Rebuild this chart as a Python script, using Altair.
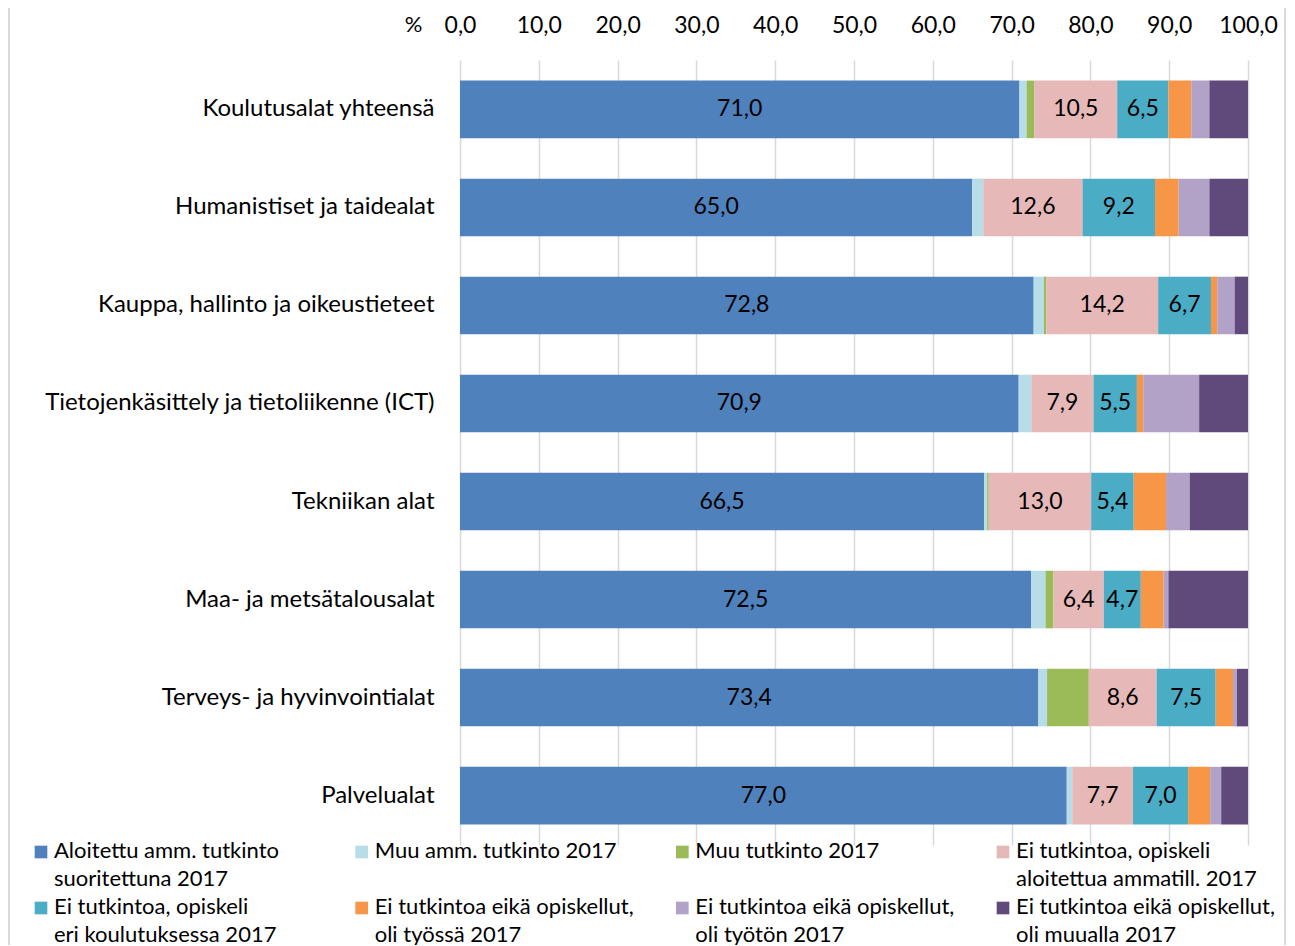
import altair as alt
import pandas as pd

categories = [
    "Koulutusalat yhteensä",
    "Humanistiset ja taidealat",
    "Kauppa, hallinto ja oikeustieteet",
    "Tietojenkäsittely ja tietoliikenne (ICT)",
    "Tekniikan alat",
    "Maa- ja metsätalousalat",
    "Terveys- ja hyvinvointialat",
    "Palvelualat",
]

series = [
    "Aloitettu amm. tutkinto|suoritettuna 2017",
    "Muu amm. tutkinto 2017",
    "Muu tutkinto 2017",
    "Ei tutkintoa, opiskeli|aloitettua ammatill. 2017",
    "Ei tutkintoa, opiskeli|eri koulutuksessa 2017",
    "Ei tutkintoa eikä opiskellut,|oli työssä 2017",
    "Ei tutkintoa eikä opiskellut,|oli työtön 2017",
    "Ei tutkintoa eikä opiskellut,|oli muualla 2017",
]

colors = ["#4f81bd", "#b7dde8", "#9bbb59", "#e6b9b8",
          "#4bacc6", "#f79646", "#b3a2c7", "#604a7b"]

suoritettu = [71.0, 65.0, 72.8, 70.9, 66.5, 72.5, 73.4, 77.0]
muu_amm = [0.9, 1.4, 1.3, 1.6, 0.4, 1.8, 1.1, 0.7]
muu_tutkinto = [1.0, 0.0, 0.3, 0.0, 0.2, 1.0, 5.3, 0.0]
aloitettua = [10.5, 12.6, 14.2, 7.9, 13.0, 6.4, 8.6, 7.7]
eri_koulutus = [6.5, 9.2, 6.7, 5.5, 5.4, 4.7, 7.5, 7.0]
tyossa = [2.9, 3.0, 0.8, 0.8, 4.1, 2.9, 2.2, 2.8]
tyoton = [2.3, 3.9, 2.2, 7.1, 3.0, 0.6, 0.5, 1.4]
muualla = [4.9, 4.9, 1.7, 6.2, 7.4, 10.1, 1.4, 3.4]

labelled = [0, 3, 4]
x_ticks = [0, 10, 20, 30, 40, 50, 60, 70, 80, 90, 100]
legend_columns = 4

values = [suoritettu, muu_amm, muu_tutkinto, aloitettua,
          eri_koulutus, tyossa, tyoton, muualla]

rows = []
for si, (s, vals) in enumerate(zip(series, values)):
    for ci, c in enumerate(categories):
        rows.append({"cat": c, "series": s, "order": si, "value": vals[ci],
                     "show": si in labelled})
df = pd.DataFrame(rows)

legend_df = pd.DataFrame({
    "series": series,
    "col": [i % legend_columns for i in range(len(series))],
    "row": [i // legend_columns for i in range(len(series))],
})

FONT = "Lato"
color_scale = alt.Scale(domain=series, range=colors)

base = alt.Chart(df).transform_stack(
    stack="value", groupby=["cat"], as_=["x0", "x1"],
    sort=[alt.SortField("order", order="ascending")]
).transform_calculate(
    mid="(datum.x0 + datum.x1) / 2",
    lab="replace(format(datum.value, '.1f'), '.', ',')",
)

y_scale = alt.Scale(paddingInner=0.413, paddingOuter=0.21)
x_scale = alt.Scale(domain=[0, 100], nice=False, zero=True)

bars = base.mark_bar().encode(
    x=alt.X(
        "x0:Q", scale=x_scale,
        axis=alt.Axis(
            orient="top", values=x_ticks, domain=False, ticks=False,
            grid=True, gridColor="#d9d9d9", gridWidth=1.5,
            labelExpr="replace(format(datum.value, '.1f'), '.', ',')",
            labelFontSize=23, labelFont=FONT, labelColor="#000",
            labelPadding=23, labelFlush=False,
            title="%", titleFontSize=22, titleFont=FONT,
            titleFontWeight="normal", titleColor="#000",
            titleX=-47, titleY=-29, titleBaseline="alphabetic",
            titleAlign="center", titleAngle=0,
        ),
    ),
    x2="x1:Q",
    y=alt.Y(
        "cat:N", sort=categories, scale=y_scale,
        axis=alt.Axis(title=None, domain=False, ticks=False, labelPadding=26,
                      labelFontSize=24, labelFont=FONT, labelColor="#000",
                      labelLimit=600),
    ),
    color=alt.Color("series:N", scale=color_scale, legend=None),
    order=alt.Order("order:Q"),
)

text = base.transform_filter("datum.show").mark_text(
    fontSize=23, font=FONT, color="#000", baseline="middle", align="center"
).encode(
    x=alt.X("mid:Q", scale=x_scale),
    y=alt.Y("cat:N", sort=categories, scale=y_scale),
    text="lab:N",
)

main = alt.layer(bars, text)

leg_base = alt.Chart(legend_df).encode(
    x=alt.X("col:Q", scale=alt.Scale(domain=[0, 3], range=[-419, 543]),
            axis=None),
    y=alt.Y("row:Q", scale=alt.Scale(domain=[0, 1], range=[792, 848]),
            axis=None),
)
leg_sq = leg_base.mark_square(size=160, opacity=1, strokeWidth=0).encode(
    color=alt.Color("series:N", scale=color_scale, legend=None),
)
leg_txt = leg_base.transform_calculate(
    lines="split(datum.series, '|')"
).mark_text(
    fontSize=22, font=FONT, color="#000", align="left", baseline="top",
    dx=13, dy=-11, lineHeight=28,
).encode(text="lines:N")

legend = alt.layer(leg_sq, leg_txt)

frame = alt.Chart(pd.DataFrame({"frame": [0]})).mark_rect(
    fill=None, stroke="#d9d9d9", strokeWidth=2
).encode(
    x=alt.value(-451), x2=alt.value(825),
    y=alt.value(-53), y2=alt.value(920),
)

chart = alt.layer(frame, main, legend).resolve_scale(
    x="independent", y="independent"
).properties(
    width=788, height=785,
    autosize=alt.AutoSizeParams(type="none"),
    padding={"left": 452, "top": 52, "right": 39, "bottom": 100},
    background="white",
).configure_view(stroke=None)

chart.save("out.html", embed_options={"renderer": "svg", "actions": False})
